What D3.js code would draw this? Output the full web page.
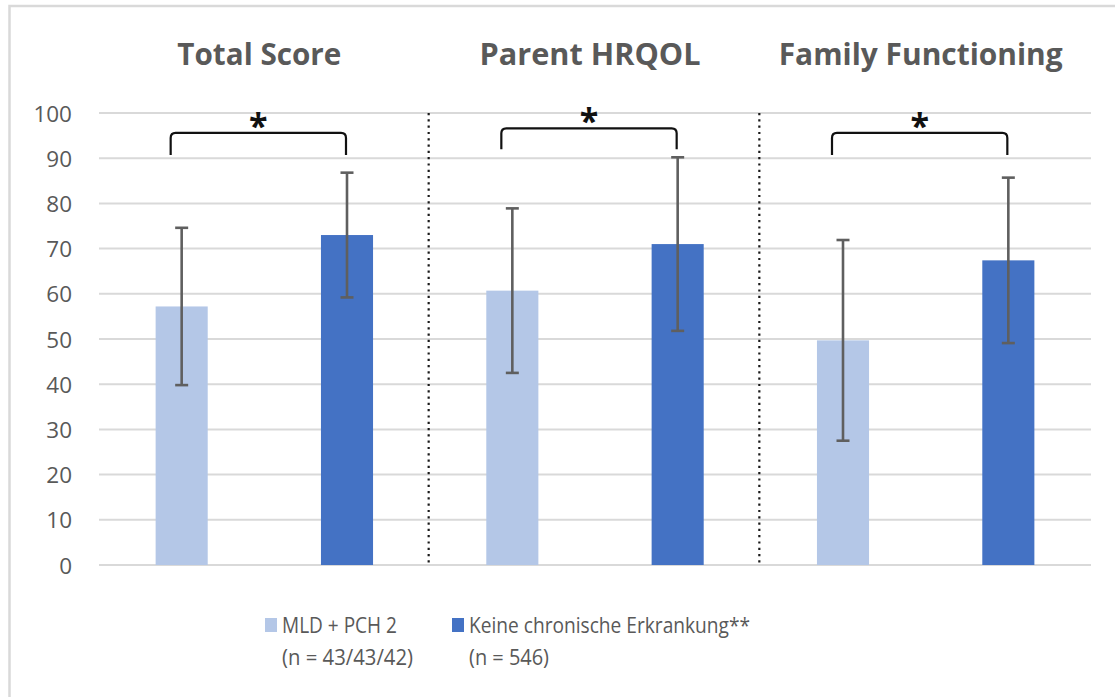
<!DOCTYPE html>
<html>
<head>
<meta charset="utf-8">
<script src="https://cdn.jsdelivr.net/npm/d3@7"></script>
<style>
  html, body { margin: 0; padding: 0; background: #ffffff; }
  svg { display: block; }
</style>
</head>
<body>
<script>
// Mean scores (± SD) for three questionnaire domains, two groups
const categories = ["Total Score", "Parent HRQOL", "Family Functioning"];
const seriesKeys = ["mld", "ctrl"];
const seriesNames = ["MLD + PCH 2", "Keine chronische Erkrankung**"];
const seriesN = ["(n = 43/43/42)", "(n = 546)"];
const seriesColors = ["#b4c7e7", "#4472c4"];
const mldMeans = [57.2, 60.7, 49.7];
const mldSD = [17.4, 18.2, 22.2];
const ctrlMeans = [73.0, 71.0, 67.4];
const ctrlSD = [13.8, 19.2, 18.3];
const yTicks = [0, 10, 20, 30, 40, 50, 60, 70, 80, 90, 100];
// significance brackets (y in score units)
const sigLabels = ["*", "*", "*"];
const bracketTop = [95.6, 96.6, 95.6];
const bracketFoot = [90.7, 92.0, 90.7];

const W = 1115, H = 697;
const plot = { left: 99, right: 1091, top: 113, bottom: 565 };
const textGrey = "#595959";
const font = "'Open Sans', 'Noto Sans', sans-serif";

const svg = d3.select("body").append("svg")
  .attr("width", W).attr("height", H);

// chart area frame
svg.append("rect")
  .attr("x", 9.5).attr("y", 6)
  .attr("width", W + 20).attr("height", H + 20)
  .attr("fill", "#ffffff")
  .attr("stroke", "#d9d9d9").attr("stroke-width", 2.5);

const y = d3.scaleLinear().domain([0, 100]).range([plot.bottom, plot.top]);
const x = d3.scaleBand().domain(categories).range([plot.left, plot.right]).padding(0);
const xs = d3.scaleBand().domain(seriesKeys).range([0, x.bandwidth()])
  .paddingInner(0.685).paddingOuter(0.3425);

// horizontal gridlines
svg.append("g").selectAll("line").data(yTicks).join("line")
  .attr("x1", plot.left).attr("x2", plot.right)
  .attr("y1", d => y(d)).attr("y2", d => y(d))
  .attr("stroke", "#d9d9d9").attr("stroke-width", 2);

// y axis labels
const yAxis = d3.axisLeft(y).tickValues(yTicks).tickSize(0).tickPadding(0);
const ga = svg.append("g").attr("transform", `translate(${plot.left - 27},0)`).call(yAxis);
ga.select(".domain").remove();
ga.selectAll("text")
  .attr("font-family", font).attr("font-size", 22.5)
  .attr("fill", textGrey).attr("dy", "0.36em");

// dotted separators between domains
svg.append("g").selectAll("line").data(categories.slice(1)).join("line")
  .attr("x1", d => x(d) - 1).attr("x2", d => x(d) - 1)
  .attr("y1", y(100)).attr("y2", y(0) - 2)
  .attr("stroke", "#1a1a1a").attr("stroke-width", 2.2)
  .attr("stroke-dasharray", "2.2,4.1");

// bar rows
const rows = [];
categories.forEach((c, i) => {
  rows.push({ cat: c, key: "mld", mean: mldMeans[i], sd: mldSD[i], color: seriesColors[0] });
  rows.push({ cat: c, key: "ctrl", mean: ctrlMeans[i], sd: ctrlSD[i], color: seriesColors[1] });
});
const cx = d => x(d.cat) + xs(d.key) + xs.bandwidth() / 2;

svg.append("g").selectAll("rect").data(rows).join("rect")
  .attr("x", d => x(d.cat) + xs(d.key))
  .attr("y", d => y(d.mean))
  .attr("width", xs.bandwidth())
  .attr("height", d => y(0) - y(d.mean))
  .attr("fill", d => d.color);

// error bars
const eb = svg.append("g").attr("stroke", "#5f5f5f").attr("stroke-width", 2.6);
eb.selectAll(".stem").data(rows).join("line")
  .attr("x1", cx).attr("x2", cx)
  .attr("y1", d => y(d.mean + d.sd)).attr("y2", d => y(d.mean - d.sd));
eb.selectAll(".capHi").data(rows).join("line")
  .attr("x1", d => cx(d) - 6.5).attr("x2", d => cx(d) + 6.5)
  .attr("y1", d => y(d.mean + d.sd)).attr("y2", d => y(d.mean + d.sd));
eb.selectAll(".capLo").data(rows).join("line")
  .attr("x1", d => cx(d) - 6.5).attr("x2", d => cx(d) + 6.5)
  .attr("y1", d => y(d.mean - d.sd)).attr("y2", d => y(d.mean - d.sd));

// significance brackets with rounded corners
const brackets = categories.map((c, i) => ({
  x1: x(c) + xs("mld") + xs.bandwidth() / 2 - 11,
  x2: x(c) + xs("ctrl") + xs.bandwidth() / 2 - 1,
  top: y(bracketTop[i]), foot: y(bracketFoot[i]), label: sigLabels[i]
}));
svg.append("g").selectAll("path").data(brackets).join("path")
  .attr("d", b => {
    const r = 5;
    return `M${b.x1},${b.foot} L${b.x1},${b.top + r} Q${b.x1},${b.top} ${b.x1 + r},${b.top}` +
           ` L${b.x2 - r},${b.top} Q${b.x2},${b.top} ${b.x2},${b.top + r} L${b.x2},${b.foot}`;
  })
  .attr("fill", "none").attr("stroke", "#111").attr("stroke-width", 2.2);
svg.append("g").selectAll("text").data(brackets).join("text")
  .attr("x", b => (b.x1 + b.x2) / 2)
  .attr("y", b => b.top + 5)
  .attr("text-anchor", "middle")
  .attr("font-family", font).attr("font-weight", 700).attr("font-size", 34)
  .attr("fill", "#111")
  .text(b => b.label);

// domain titles
const titleWidths = [164, 221, 284];
svg.append("g").selectAll("text").data(categories).join("text")
  .attr("x", (d, i) => x(d) + x.bandwidth() / 2 - 5)
  .attr("y", 65)
  .attr("text-anchor", "middle")
  .attr("font-family", font).attr("font-weight", 700).attr("font-size", 30)
  .attr("fill", textGrey)
  .attr("textLength", (d, i) => titleWidths[i])
  .attr("lengthAdjust", "spacingAndGlyphs")
  .text(d => d);

// legend
const legendX = [265, 452];
const nameWidths = [115, 281];
const nWidths = [131, 80];
const lg = svg.append("g").selectAll("g").data(seriesNames).join("g")
  .attr("transform", (d, i) => `translate(${legendX[i]},0)`);
lg.append("rect")
  .attr("x", 0).attr("y", 618).attr("width", 12).attr("height", 14)
  .attr("fill", (d, i) => seriesColors[i]);
lg.append("text")
  .attr("x", 17).attr("y", 633)
  .attr("font-family", font).attr("font-size", 22).attr("fill", textGrey)
  .attr("textLength", (d, i) => nameWidths[i])
  .attr("lengthAdjust", "spacingAndGlyphs")
  .text(d => d);
lg.append("text")
  .attr("x", 17).attr("y", 665)
  .attr("font-family", font).attr("font-size", 22).attr("fill", textGrey)
  .attr("textLength", (d, i) => nWidths[i])
  .attr("lengthAdjust", "spacingAndGlyphs")
  .text((d, i) => seriesN[i]);
</script>
</body>
</html>
